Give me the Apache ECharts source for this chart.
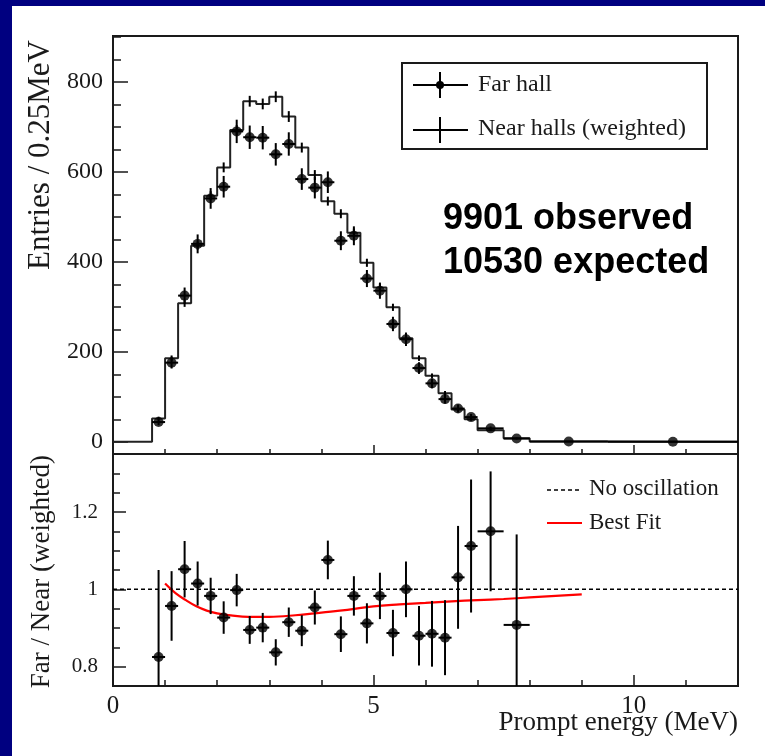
<!DOCTYPE html>
<html><head><meta charset="utf-8">
<script src="https://cdn.jsdelivr.net/npm/echarts@6/dist/echarts.min.js"></script>
<style>html,body{margin:0;padding:0;background:#fff}#c{width:765px;height:756px}</style>
</head><body><div id="c"></div>
<script>
// ---- data ----
const binEdges = [0.75,1.0,1.25,1.5,1.75,2.0,2.25,2.5,2.75,3.0,3.25,3.5,3.75,4.0,4.25,4.5,4.75,5.0,5.25,5.5,5.75,6.0,6.25,6.5,6.75,7.0,7.5,8.0,9.5,12.0];
const nearEntries = [52,186,308,436,547,610,693,757,751,767,723,654,593,535,507,465,398,343,299,230,186,147,108,72,50,26,8,1,0.3];
const nearErrors  = [4,6,8,9,10,11,11,12,12,12,12,11,11,10,10,9,9,8,8,7,6,5,5,4,3,2,1,0.3,0.2];
const farEntries  = [44,176,325,440,541,567,690,677,676,639,662,584,565,577,447,458,363,336,262,228,164,130,95,74,55,30,7.3,0.6,0.3];
const farErrors   = [7,13,18,21,23,24,26,26,26,25,26,24,24,24,21,21,19,18,16,15,13,11,10,9,7,4,2,0.5,0.3];
const ratioValues = [0.825,0.957,1.052,1.015,0.983,0.927,0.998,0.895,0.901,0.837,0.915,0.893,0.953,1.076,0.884,0.983,0.912,0.983,0.887,1.0,0.88,0.885,0.875,1.031,1.112,1.15,0.908];
const ratioErrors = [0.225,0.09,0.073,0.057,0.047,0.042,0.042,0.036,0.038,0.034,0.038,0.04,0.044,0.05,0.046,0.051,0.052,0.06,0.06,0.072,0.077,0.085,0.097,0.133,0.172,0.155,0.234];
const fitEnergy = [1.0,1.2,1.4,1.6,1.8,2.0,2.3,2.6,3.0,3.5,4.0,4.5,5.0,5.5,6.0,6.5,7.0,7.5,8.0,8.5,9.0];
const fitRatio  = [1.015,0.99,0.972,0.956,0.945,0.938,0.932,0.929,0.929,0.933,0.940,0.947,0.956,0.961,0.965,0.969,0.972,0.975,0.979,0.983,0.987];
const noOscRatio = 1.0;
const energyRange = [0, 12];
const entriesRange = [-27, 902];
const ratioRange = [0.75, 1.35];
const entriesTicks = [0,200,400,600,800];
const ratioTicks = [0.8,1,1.2];
const energyTicks = [0,5,10];
const labels = {
  far: 'Far hall', near: 'Near halls (weighted)',
  noosc: 'No oscillation', fit: 'Best Fit',
  obs: '9901 observed', exp: '10530 expected',
  yTop: 'Entries / 0.25MeV', yBot: 'Far / Near (weighted)', x: 'Prompt energy (MeV)'
};

// ---- derived ----
const nb = nearEntries.length;
const centers = [], halfW = [];
for (let i = 0; i < nb; i++) { centers.push((binEdges[i]+binEdges[i+1])/2); halfW.push((binEdges[i+1]-binEdges[i])/2); }
const stepData = [[energyRange[0], 0]];
for (let i = 0; i < nb; i++) stepData.push([binEdges[i], nearEntries[i]]);
stepData.push([binEdges[nb], nearEntries[nb-1]]);
const nearErr = centers.map((c,i)=>[c, nearEntries[i], 0, nearErrors[i]]);
const farErr = centers.map((c,i)=>[c, farEntries[i], halfW[i], farErrors[i]]);
const farPts = centers.map((c,i)=>[c, farEntries[i]]);
const ratioErr = ratioValues.map((v,i)=>[centers[i], v, halfW[i], ratioErrors[i]]);
const ratioPts = ratioValues.map((v,i)=>[centers[i], v]);
const fitPts = fitEnergy.map((e,i)=>[e, fitRatio[i]]);

function seq(a, b, s){ const r=[]; for(let v=a; v<=b+1e-9; v+=s) r.push(Math.round(v*1000)/1000); return r; }

const FONT = 'Liberation Serif';
const INK = '#1a1a1a';

function errRender(params, api) {
  const x = api.value(0), y = api.value(1), ex = api.value(2), ey = api.value(3);
  const cs = params.coordSys;
  const clampY = v => Math.max(cs.y, Math.min(cs.y + cs.height, v));
  const c = api.coord([x, y]);
  const l = api.coord([x - ex, y]), r = api.coord([x + ex, y]);
  const t = api.coord([x, y + ey]), b = api.coord([x, y - ey]);
  const st = { stroke: '#000', lineWidth: 2 };
  const ch = [{ type: 'line', shape: { x1: c[0], y1: clampY(t[1]), x2: c[0], y2: clampY(b[1]) }, style: st }];
  if (ex > 0) ch.push({ type: 'line', shape: { x1: l[0], y1: c[1], x2: r[0], y2: c[1] }, style: st });
  return { type: 'group', children: ch };
}

const axisLineStyle = { color: INK, width: 2 };
const tickStyle = { color: INK, width: 1.5 };
function xAx(grid, extra) {
  return Object.assign({ gridIndex: grid, type: 'value', position: 'bottom', min: energyRange[0], max: energyRange[1],
    axisLine: { show: false, onZero: false }, axisLabel: { show: false }, splitLine: { show: false } }, extra);
}
function yAx(grid, range, extra) {
  return Object.assign({ gridIndex: grid, type: 'value', position: 'left', min: range[0], max: range[1],
    axisLine: { show: false, onZero: false }, axisLabel: { show: false }, splitLine: { show: false } }, extra);
}
const chart = echarts.init(document.getElementById('c'), null, { renderer: 'canvas' });
const option = {
  backgroundColor: '#ffffff',
  animation: false,
  grid: [
    { left: 113, top: 36, width: 625, height: 418, show: true, borderColor: INK, borderWidth: 2, backgroundColor: 'transparent' },
    { left: 113, top: 454, width: 625, height: 232, show: true, borderColor: INK, borderWidth: 2, backgroundColor: 'transparent' }
  ],
  xAxis: [
    xAx(0, { interval: 1, axisLine: { show: true, onZero: false, lineStyle: axisLineStyle },
      axisTick: { show: true, inside: true, length: 5, lineStyle: tickStyle } }),
    xAx(0, { axisTick: { show: true, inside: true, length: 9, customValues: energyTicks, lineStyle: tickStyle } }),
    xAx(1, { interval: 1, axisLine: { show: true, onZero: false, lineStyle: axisLineStyle },
      axisTick: { show: true, inside: true, length: 6, lineStyle: tickStyle } }),
    xAx(1, { axisTick: { show: true, inside: true, length: 11, customValues: energyTicks, lineStyle: tickStyle },
      axisLabel: { show: true, customValues: energyTicks, fontFamily: FONT, fontSize: 25, color: INK, margin: 8 } })
  ],
  yAxis: [
    yAx(0, entriesRange, { axisLine: { show: true, onZero: false, lineStyle: axisLineStyle },
      axisTick: { show: true, inside: true, length: 15, customValues: entriesTicks, lineStyle: tickStyle },
      axisLabel: { show: true, customValues: entriesTicks, fontFamily: FONT, fontSize: 24, color: INK, margin: 10 } }),
    yAx(0, entriesRange, { axisTick: { show: true, inside: true, length: 8, customValues: seq(0, 900, 50), lineStyle: tickStyle } }),
    yAx(1, ratioRange, { axisLine: { show: true, onZero: false, lineStyle: axisLineStyle },
      axisTick: { show: true, inside: true, length: 13, customValues: ratioTicks, lineStyle: tickStyle },
      axisLabel: { show: true, customValues: ratioTicks, fontFamily: FONT, fontSize: 21, color: INK, margin: 15 } }),
    yAx(1, ratioRange, { axisTick: { show: true, inside: true, length: 7, customValues: seq(0.75, 1.35, 0.05), lineStyle: tickStyle } })
  ],
  series: [
    { name: labels.near, type: 'line', xAxisIndex: 0, yAxisIndex: 0, step: 'end', data: stepData,
      symbol: 'none', lineStyle: { color: '#222', width: 2 }, z: 2 },
    { type: 'custom', xAxisIndex: 0, yAxisIndex: 0, data: nearErr, renderItem: errRender, z: 3 },
    { type: 'custom', xAxisIndex: 0, yAxisIndex: 0, data: farErr, renderItem: errRender, z: 4 },
    { name: labels.far, type: 'scatter', xAxisIndex: 0, yAxisIndex: 0, data: farPts, symbol: 'circle', symbolSize: 10,
      itemStyle: { color: '#000' }, z: 5 },
    { name: labels.noosc, type: 'line', xAxisIndex: 2, yAxisIndex: 2, data: [[energyRange[0], noOscRatio], [energyRange[1], noOscRatio]],
      symbol: 'none', lineStyle: { color: '#000', width: 1.5, type: [4, 3] }, z: 2 },
    { name: labels.fit, type: 'line', xAxisIndex: 2, yAxisIndex: 2, data: fitPts, smooth: 0.4,
      symbol: 'none', lineStyle: { color: '#ff0000', width: 2.2 }, z: 3 },
    { type: 'custom', xAxisIndex: 2, yAxisIndex: 2, data: ratioErr, renderItem: errRender, z: 4 },
    { type: 'scatter', xAxisIndex: 2, yAxisIndex: 2, data: ratioPts, symbol: 'circle', symbolSize: 10,
      itemStyle: { color: '#000' }, z: 5 }
  ],
  graphic: [
    { type: 'rect', shape: { x: 0, y: 0, width: 765, height: 6 }, style: { fill: '#000080' }, silent: true },
    { type: 'rect', shape: { x: 0, y: 0, width: 12, height: 756 }, style: { fill: '#000080' }, silent: true },
    // top legend
    { type: 'rect', shape: { x: 402, y: 63, width: 305, height: 86 }, style: { fill: '#fff', stroke: INK, lineWidth: 2 }, z: 10 },
    { type: 'line', shape: { x1: 413, y1: 85, x2: 468, y2: 85 }, style: { stroke: '#000', lineWidth: 2 }, z: 11 },
    { type: 'line', shape: { x1: 440, y1: 72, x2: 440, y2: 98 }, style: { stroke: '#000', lineWidth: 2 }, z: 11 },
    { type: 'circle', shape: { cx: 440, cy: 85, r: 4 }, style: { fill: '#000' }, z: 11 },
    { type: 'text', x: 478, y: 85, style: { text: labels.far, font: '24px "Liberation Serif"', fill: INK, textVerticalAlign: 'middle' }, z: 11 },
    { type: 'line', shape: { x1: 413, y1: 130, x2: 468, y2: 130 }, style: { stroke: '#000', lineWidth: 2 }, z: 11 },
    { type: 'line', shape: { x1: 440, y1: 117, x2: 440, y2: 143 }, style: { stroke: '#000', lineWidth: 2 }, z: 11 },
    { type: 'text', x: 478, y: 129, style: { text: labels.near, font: '24px "Liberation Serif"', fill: INK, textVerticalAlign: 'middle' }, z: 11 },
    // annotation
    { type: 'text', x: 443, y: 219, style: { text: labels.obs, font: 'bold 36px "Liberation Sans"', fill: '#000', textVerticalAlign: 'middle' }, z: 11 },
    { type: 'text', x: 443, y: 263, style: { text: labels.exp, font: 'bold 36px "Liberation Sans"', fill: '#000', textVerticalAlign: 'middle' }, z: 11 },
    // bottom legend
    { type: 'line', shape: { x1: 547, y1: 490, x2: 582, y2: 490 }, style: { stroke: '#000', lineWidth: 1.5, lineDash: [4, 3] }, z: 11 },
    { type: 'text', x: 589, y: 489, style: { text: labels.noosc, font: '23px "Liberation Serif"', fill: INK, textVerticalAlign: 'middle' }, z: 11 },
    { type: 'line', shape: { x1: 547, y1: 523, x2: 582, y2: 523 }, style: { stroke: '#ff0000', lineWidth: 2.2 }, z: 11 },
    { type: 'text', x: 589, y: 523, style: { text: labels.fit, font: '23px "Liberation Serif"', fill: INK, textVerticalAlign: 'middle' }, z: 11 },
    // axis titles
    { type: 'text', x: 41, y: 40, rotation: Math.PI / 2, style: { text: labels.yTop, font: '31px "Liberation Serif"', fill: INK, textAlign: 'right', textVerticalAlign: 'middle' }, z: 11 },
    { type: 'text', x: 42, y: 455, rotation: Math.PI / 2, style: { text: labels.yBot, font: '27px "Liberation Serif"', fill: INK, textAlign: 'right', textVerticalAlign: 'middle' }, z: 11 },
    { type: 'text', x: 738, y: 723, style: { text: labels.x, font: '27px "Liberation Serif"', fill: INK, textAlign: 'right', textVerticalAlign: 'middle' }, z: 11 }
  ]
};
chart.setOption(option);
</script></body></html>
